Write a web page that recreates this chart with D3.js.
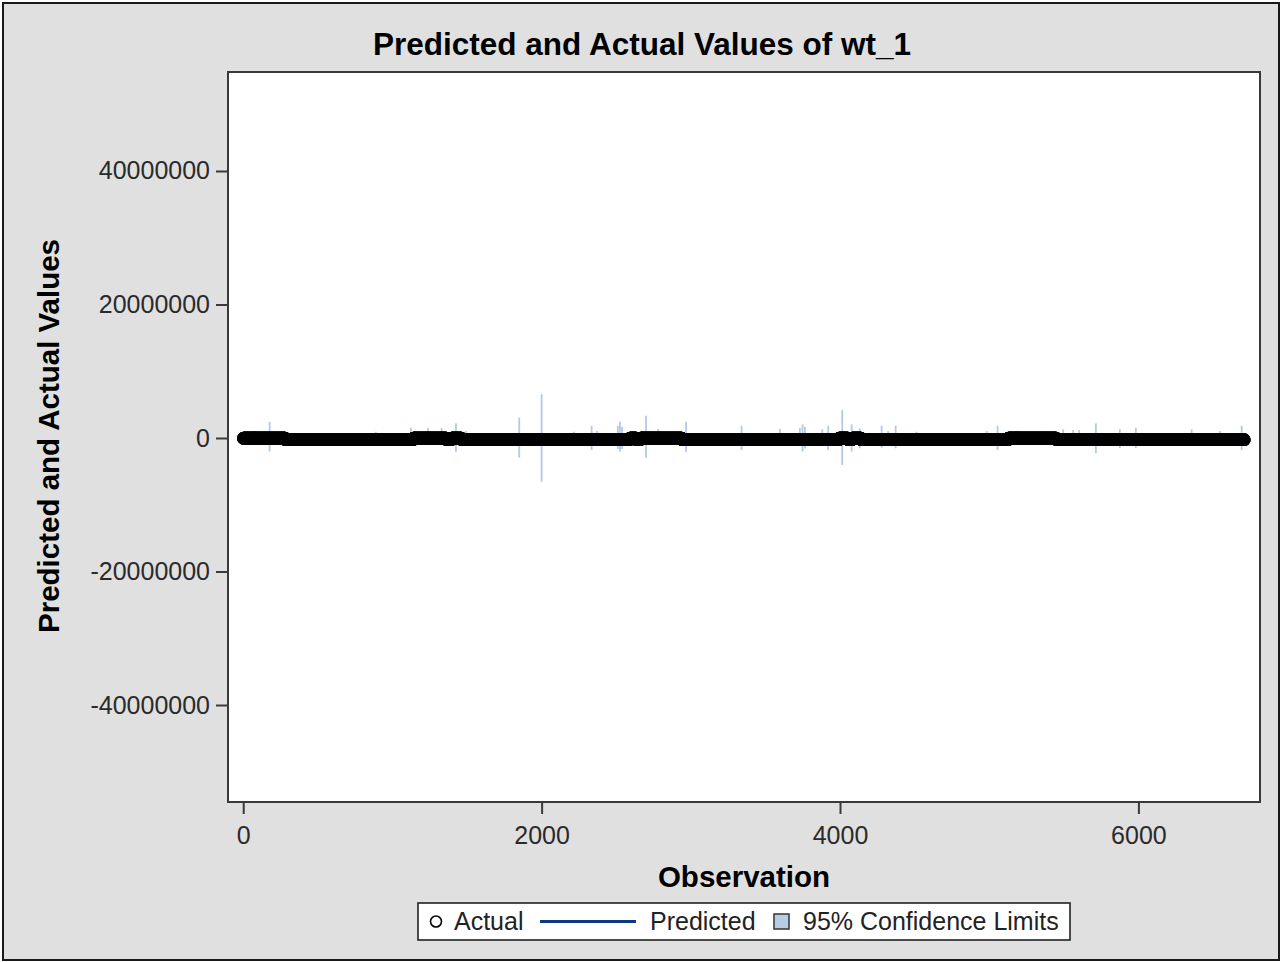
<!DOCTYPE html>
<html>
<head>
<meta charset="utf-8">
<script src="https://cdn.jsdelivr.net/npm/d3@7"></script>
<style>
  html, body { margin: 0; padding: 0; background: #ffffff; }
  svg { display: block; }
  text { font-family: "Liberation Sans", Arial, Helvetica, sans-serif; }
</style>
</head>
<body>
<svg id="chart" width="1281" height="962"></svg>
<script>
// Number of observations
const nObs = 6710;

// Actual values of wt_1, run-length encoded: each run starts at runStart[i]
// and continues up to the next run's start (last run ends at nObs)
const runStart = [1, 283, 1140, 1363, 1396, 1464, 2591, 2636, 2663, 2941, 3993, 4055, 4081, 4142, 5128, 5451];
const runValue = [-30000, -250000, -30000, -250000, -30000, -250000, -30000, -250000, -30000, -250000, -30000, -250000, -30000, -250000, -30000, -250000];

// Observations where the 95% confidence limits reach outside the marker band
const clObs   = [177, 889, 1124, 1238, 1330, 1426, 1493, 1850, 2000, 2216, 2335, 2371, 2511, 2525, 2539, 2700, 2781, 2968, 3340, 3597, 3731, 3749, 3765, 3881, 3921, 4015, 4078, 4133, 4279, 4323, 4373, 4513, 4983, 5056, 5389, 5496, 5563, 5603, 5715, 5876, 5983, 6357, 6546, 6692];
const clUpper = [2440000, 940000, 1500000, 1500000, 1500000, 2200000, 1050000, 3040000, 6550000, 940000, 1840000, 1050000, 1800000, 2440000, 1650000, 3340000, 1350000, 2440000, 1840000, 1350000, 1500000, 2050000, 1650000, 1300000, 1840000, 4200000, 2050000, 1450000, 1840000, 1050000, 1840000, 940000, 1050000, 1840000, 1050000, 1300000, 1200000, 1200000, 2200000, 1300000, 1540000, 1300000, 1050000, 1840000];
const clLower = [-2050000, -1100000, -1000000, -1000000, -1000000, -2050000, -1000000, -2950000, -6550000, -900000, -1800000, -1000000, -1650000, -2050000, -1650000, -2950000, -1000000, -2050000, -1800000, -1000000, -1200000, -2050000, -1570000, -1000000, -1800000, -4040000, -2050000, -1540000, -1450000, -1100000, -1540000, -1000000, -1000000, -1800000, -1000000, -1000000, -1000000, -1000000, -2300000, -1500000, -1500000, -1200000, -1000000, -1800000];

// Axis ticks
const xTicks = [0, 2000, 4000, 6000];
const yTicks = [40000000, 20000000, 0, -20000000, -40000000];

// Legend entries
const legendLabels = ["Actual", "Predicted", "95% Confidence Limits"];

// Expand the runs into one record per observation
const actual = [];
for (let r = 0; r < runStart.length; r++) {
  const end = r + 1 < runStart.length ? runStart[r + 1] - 1 : nObs;
  for (let i = runStart[r]; i <= end; i++) actual.push({ obs: i, value: runValue[r] });
}
const cl = clObs.map((o, i) => ({ obs: o, lower: clLower[i], upper: clUpper[i] }));

const svg = d3.select("#chart");
const W = 1281, H = 962;
const plot = { left: 228, top: 72, right: 1260, bottom: 802 };
const fontFamily = "'Liberation Sans', Arial, sans-serif";

// Background and outer frame
svg.append("rect").attr("x", 0).attr("y", 0).attr("width", W).attr("height", H).attr("fill", "#ffffff");
svg.append("rect").attr("x", 3).attr("y", 3).attr("width", W - 5).attr("height", H - 5)
  .attr("fill", "#e0e0e0").attr("stroke", "#1a1a1a").attr("stroke-width", 2);

const x = d3.scaleLinear().domain([-102, 6815]).range([plot.left, plot.right]);
const y = d3.scaleLinear().domain([-54530000, 54830000]).range([plot.bottom, plot.top]);

// Plot area
svg.append("rect").attr("x", plot.left).attr("y", plot.top)
  .attr("width", plot.right - plot.left).attr("height", plot.bottom - plot.top)
  .attr("fill", "#ffffff");

const clipId = "plotClip";
svg.append("clipPath").attr("id", clipId).append("rect")
  .attr("x", plot.left).attr("y", plot.top)
  .attr("width", plot.right - plot.left).attr("height", plot.bottom - plot.top);
const g = svg.append("g").attr("clip-path", `url(#${clipId})`);

// 95% confidence limits
g.append("g").selectAll("line").data(cl).join("line")
  .attr("x1", d => x(d.obs)).attr("x2", d => x(d.obs))
  .attr("y1", d => y(d.upper)).attr("y2", d => y(d.lower))
  .attr("stroke", "#b3c9e4").attr("stroke-width", 1.8);

// Predicted line
g.append("path").datum(actual)
  .attr("d", d3.line().x(d => x(d.obs)).y(d => y(d.value)))
  .attr("fill", "none").attr("stroke", "#0b3a7e").attr("stroke-width", 3);

// Actual observations (open circles)
g.append("g").selectAll("circle").data(actual).join("circle")
  .attr("cx", d => x(d.obs)).attr("cy", d => y(d.value))
  .attr("r", 5.6).attr("fill", "none").attr("stroke", "#000000").attr("stroke-width", 1.6);

// Plot frame
svg.append("rect").attr("x", plot.left).attr("y", plot.top)
  .attr("width", plot.right - plot.left).attr("height", plot.bottom - plot.top)
  .attr("fill", "none").attr("stroke", "#3a3a3a").attr("stroke-width", 2);

// Tick labels use a plain hyphen for negatives
const fmt = d => String(d);

// X axis
const xAxis = d3.axisBottom(x).tickValues(xTicks).tickSize(12).tickPadding(12).tickFormat(fmt);
const gx = svg.append("g").attr("transform", `translate(0,${plot.bottom})`).call(xAxis);
gx.select(".domain").remove();
gx.selectAll(".tick line").attr("stroke", "#3a3a3a").attr("stroke-width", 2);
gx.selectAll(".tick text").attr("font-size", 25).attr("fill", "#2a2a2a").attr("font-family", fontFamily);

// Y axis
const yAxis = d3.axisLeft(y).tickValues(yTicks).tickSize(12).tickPadding(6).tickFormat(fmt);
const gy = svg.append("g").attr("transform", `translate(${plot.left},0)`).call(yAxis);
gy.select(".domain").remove();
gy.selectAll(".tick line").attr("stroke", "#3a3a3a").attr("stroke-width", 2);
gy.selectAll(".tick text").attr("font-size", 25).attr("fill", "#2a2a2a").attr("font-family", fontFamily);

// Title and axis labels
svg.append("text").attr("x", 642).attr("y", 55).attr("text-anchor", "middle")
  .attr("font-size", 31.5).attr("font-weight", "bold").attr("fill", "#000")
  .text("Predicted and Actual Values of wt_1");
svg.append("text").attr("x", 744).attr("y", 887).attr("text-anchor", "middle")
  .attr("font-size", 29.5).attr("font-weight", "bold").attr("fill", "#000")
  .text("Observation");
svg.append("text").attr("transform", `translate(59,${(plot.top + plot.bottom) / 2 - 1}) rotate(-90)`)
  .attr("text-anchor", "middle")
  .attr("font-size", 29.5).attr("font-weight", "bold").attr("fill", "#000")
  .text("Predicted and Actual Values");

// Legend
const lg = svg.append("g");
lg.append("rect").attr("x", 418).attr("y", 903).attr("width", 652).attr("height", 37)
  .attr("fill", "#ffffff").attr("stroke", "#222").attr("stroke-width", 1.6);
lg.append("circle").attr("cx", 436).attr("cy", 921.5).attr("r", 5.5)
  .attr("fill", "#fff").attr("stroke", "#000").attr("stroke-width", 1.6);
lg.append("text").attr("x", 454).attr("y", 930).attr("font-size", 25).attr("fill", "#222").text(legendLabels[0]);
lg.append("line").attr("x1", 540).attr("x2", 636).attr("y1", 921.5).attr("y2", 921.5)
  .attr("stroke", "#0b3a7e").attr("stroke-width", 3);
lg.append("text").attr("x", 650).attr("y", 930).attr("font-size", 25).attr("fill", "#222").text(legendLabels[1]);
lg.append("rect").attr("x", 774).attr("y", 914).attr("width", 15).attr("height", 15)
  .attr("fill", "#b8cce4").attr("stroke", "#333").attr("stroke-width", 1.5);
lg.append("text").attr("x", 803).attr("y", 930).attr("font-size", 25).attr("fill", "#222").text(legendLabels[2]);
</script>
</body>
</html>
